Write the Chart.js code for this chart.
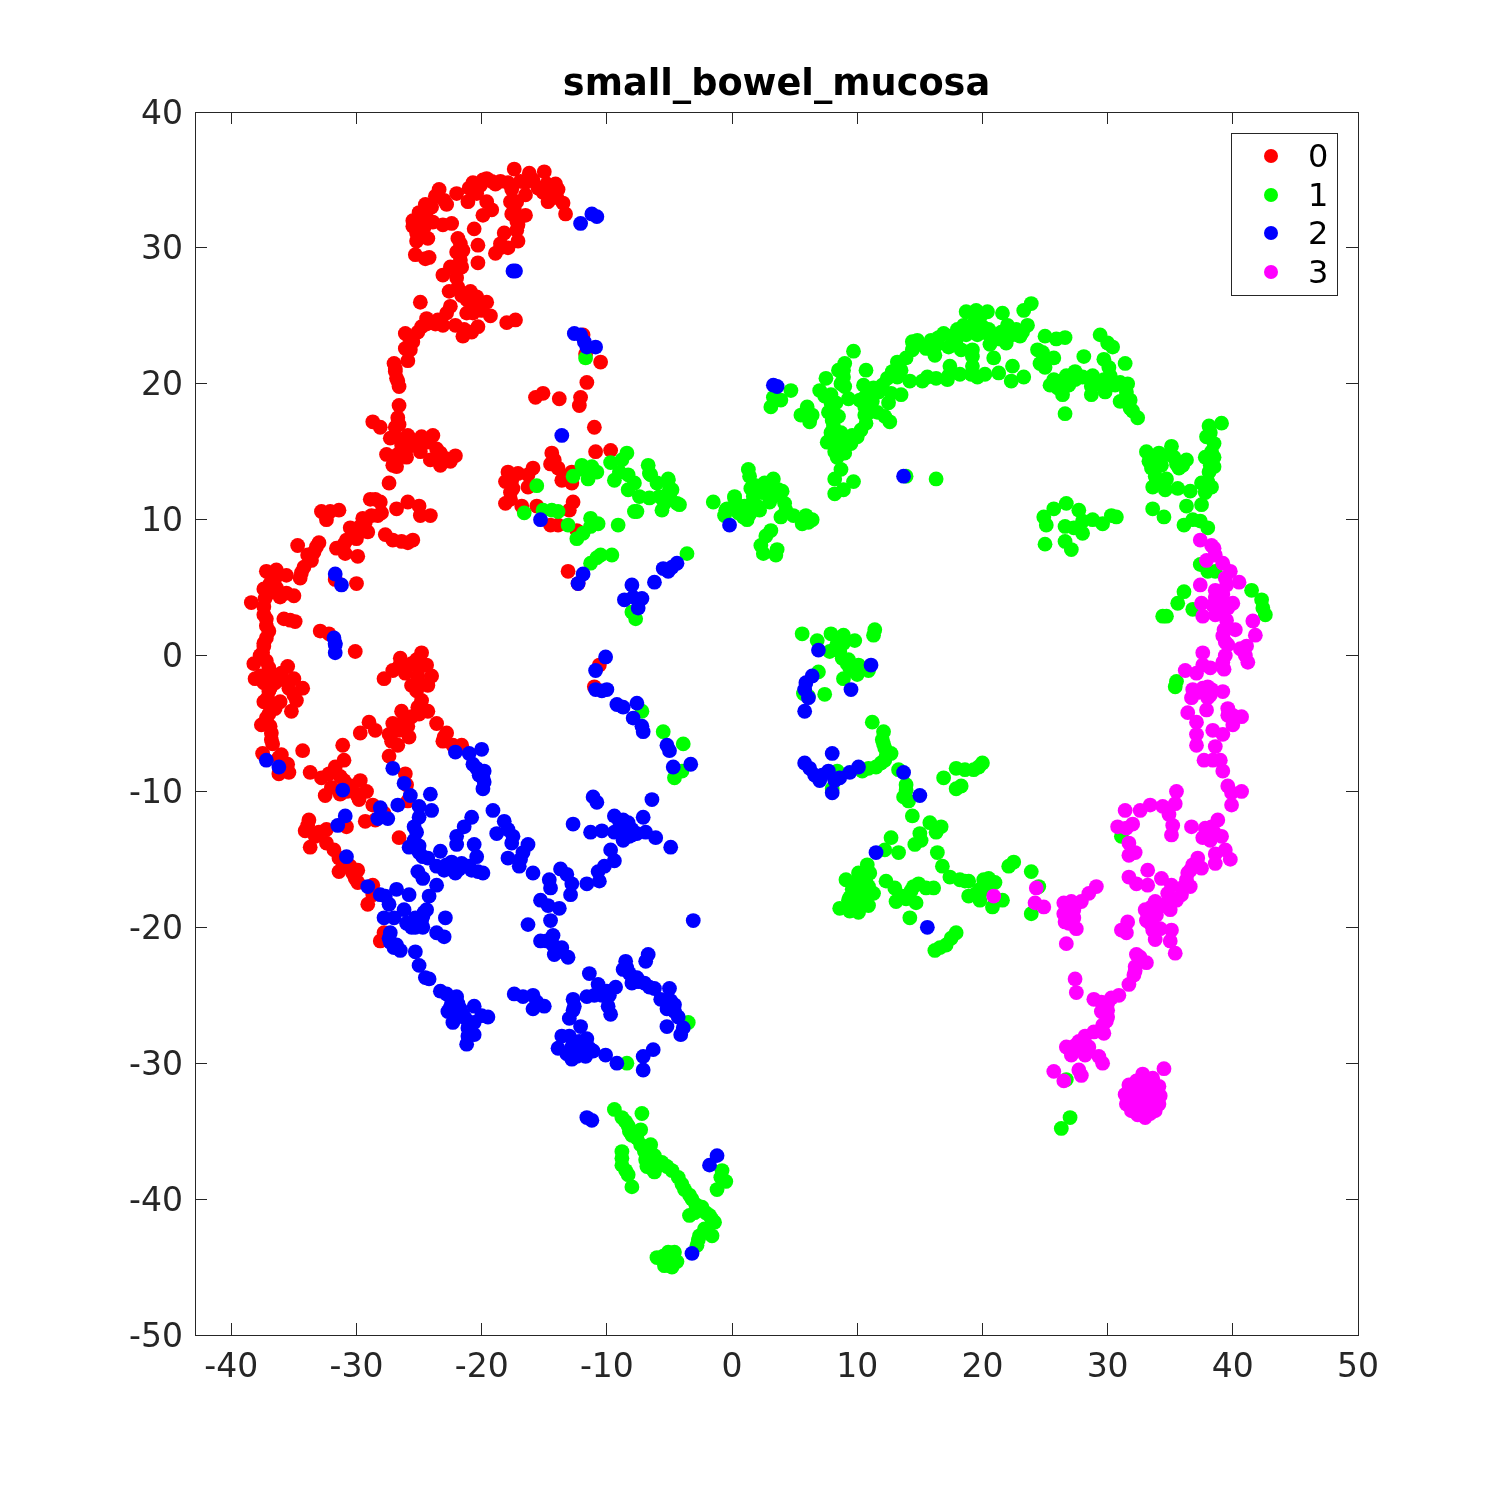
<!DOCTYPE html>
<html><head><meta charset="utf-8">
<script src="https://cdn.jsdelivr.net/npm/chart.js@4"></script>
<style>html,body{margin:0;padding:0;background:#fff}canvas{display:block}</style>
</head><body><canvas id="c" width="1500" height="1500"></canvas>
<script>
const chartTitle = "small_bowel_mucosa";
const seriesLabels = ["0","1","2","3"];
const seriesColors = ["#ff0000","#00ff00","#0000ff","#ff00ff"];
const xTicks = [-40,-30,-20,-10,0,10,20,30,40,50];
const yTicks = [40,30,20,10,0,-10,-20,-30,-40,-50];
const red = [[-17.4,35.8],[-16.2,35.5],[-15,35.6],[-16.9,34.9],[-15.9,35],[-14.8,34.7],[-14.1,34.7],[-13.9,34.3],[-15.1,34.1],[-14.5,33.8],[-14.7,33.4],[-13.5,33.3],[-13.3,32.5],[-18.5,34.9],[-19.2,34.9],[-19.6,35.1],[-20.1,34.6],[-20.7,34.8],[-20.4,34],[-23.4,34.3],[-23.7,33.8],[-22,34],[-22.8,33.2],[-21.1,33.4],[-24.5,33.2],[-24.4,32.7],[-25.5,32],[-24.9,32],[-25.5,31.6],[-23.9,31.9],[-23.1,31.7],[-22.4,31.8],[-25.2,31.1],[-24.3,30.7],[-25.2,30.5],[-25.3,29.5],[-24.5,29.2],[-24.2,29.3],[-19.6,33.4],[-19.2,32.8],[-19.9,32.4],[-17.6,34.3],[-17.7,33.4],[-17.2,33.4],[-16.5,33.9],[-16.5,32.4],[-17.6,32.5],[-17.2,32],[-17.2,31.3],[-18.2,31.1],[-17.1,30.5],[-17.9,30],[-18.5,30],[-18.9,29.6],[-20.6,31.4],[-20.3,30.2],[-20.3,28.9],[-21.9,30.7],[-21.5,29.8],[-22,29.7],[-21.7,29.1],[-22.5,28.6],[-23.1,28],[-22,27.8],[-21.9,27.1],[-22.6,26.8],[-20.9,26.8],[-21.2,26.2],[-20.7,25.8],[-19.6,26],[-20,25.4],[-21.2,25.2],[-19.3,25],[-20.7,25.2],[-24.9,26],[-22.5,25.7],[-22.8,25.2],[-24.4,24.8],[-23.7,24.4],[-23.1,24.3],[-22.1,24.3],[-24.8,24.2],[-20.3,24.2],[-20.8,23.8],[-21.5,23.5],[-18,24.5],[-17.3,24.7],[-25.1,23.8],[-26.1,23.7],[-25.5,23.1],[-26.1,22.6],[-25.7,22.5],[-25.9,21.7],[-27,21.5],[-26.9,20.9],[-26.8,20.4],[-26.6,19.8],[-26.6,18.4],[-26.7,17.5],[-26.9,16.8],[-28.7,17.2],[-28.1,16.8],[-25.9,16.2],[-23.9,16.2],[-24.8,16.1],[-27.3,16],[-26.5,15.9],[-25.5,15.6],[-24.4,15.7],[-26,15.2],[-23.6,15.2],[-24.9,15],[-27.6,14.8],[-26.7,14.8],[-26,14.6],[-22.1,14.7],[-22.5,14.3],[-24.1,14.4],[-23.3,14],[-27.1,14],[-26.8,13.9],[-27.4,12.7],[-28.9,11.5],[-28.1,11.3],[-28,10.5],[-32.8,10.6],[-31.4,10.7],[-32.1,10.6],[-32.4,10],[-28.8,10.3],[-29.5,10.1],[-30.5,9.4],[-29.7,9.5],[-29.1,9.1],[-30,8.6],[-30.8,8.5],[-31.6,7.9],[-30.9,7.5],[-29.9,7.3],[-33,8.3],[-33.4,7.6],[-34.7,8.1],[-33.6,7],[-34.2,6.5],[-34.5,5.7],[-26.8,10.8],[-25.9,11.3],[-25,11],[-24.9,10.3],[-24.1,10.3],[-27.7,8.9],[-27.1,8.5],[-26.4,8.4],[-25.5,8.5],[-25.9,8.3],[-37.2,6.2],[-36.4,6.3],[-35.6,5.9],[-37.4,4.9],[-36.5,5.7],[-36.9,5.3],[-35.6,4.6],[-35,4.4],[-36.1,4.3],[-38.4,3.9],[-37.3,4.2],[-37.4,3.6],[-37.2,2.7],[-35.8,2.7],[-34.9,2.5],[-37,1.8],[-37.4,0.9],[-30,5.3],[-31.7,5.6],[-32.9,1.8],[-32.2,1.6],[-37.4,0.7],[-37.7,0],[-38.2,-0.6],[-37.2,-0.4],[-35.5,-0.8],[-38.1,-1.7],[-37,-1.3],[-36,-1.3],[-37.4,-2],[-36.5,-2],[-35,-1.7],[-34.3,-2.4],[-35.4,-2.4],[-37,-2.6],[-34.8,-3.3],[-37.4,-3.4],[-36.1,-3.4],[-36.5,-3.9],[-35.2,-4.1],[-37.2,-4.6],[-37.6,-5.1],[-36.8,-5.7],[-36.7,-6.5],[-37.5,-7.2],[-36,-7.3],[-35.5,-8],[-36.2,-8.7],[-35.4,-8.6],[-34.3,-7],[-30.1,0.3],[-24.8,0.2],[-26.5,-0.2],[-27.1,-1.1],[-25.6,-0.6],[-24.4,-0.7],[-26.1,-1.3],[-24,-1.5],[-25.1,-1.5],[-27.8,-1.7],[-25.6,-2.2],[-24.3,-2.2],[-24.8,-3.3],[-25.1,-3.8],[-26.4,-4.1],[-24.3,-4.1],[-25.6,-4.5],[-27.1,-5],[-26.3,-4.9],[-23.6,-5],[-27.4,-5.8],[-29,-4.9],[-29.7,-5.7],[-28.5,-5.5],[-25.8,-6],[-26.7,-6.6],[-27.4,-7.4],[-22.8,-5.7],[-23.1,-6.3],[-21.6,-6.6],[-31.1,-6.6],[-31,-7.7],[-31.7,-8.2],[-33.7,-8.6],[-32.8,-9],[-31.3,-8.9],[-29.7,-9.2],[-32.5,-10.3],[-31.3,-10.2],[-30.4,-9.6],[-29.8,-10.6],[-29.2,-10],[-28.7,-11],[-27.8,-11.6],[-26.1,-8.7],[-26,-9.5],[-25.9,-10.7],[-26.6,-13.4],[-33.8,-12.1],[-34.1,-12.9],[-32.4,-12.8],[-33.3,-13.3],[-33.7,-14.1],[-32.4,-13.8],[-31.8,-14.3],[-31.4,-14.9],[-30.8,-12.6],[-29.3,-12.2],[-28.5,-12.1],[-31.4,-15.9],[-30.5,-15.5],[-29.9,-15.8],[-30.1,-16.4],[-28.7,-16.9],[-28.7,-17.6],[-29.1,-18.3],[-27.8,-20.4],[-28.1,-21],[-10.6,-0.7],[-11,-2.3],[-11.9,23.6],[-11.7,22.2],[-10.5,21.6],[-11.6,20.1],[-12.1,19],[-12.2,18.4],[-11,16.8],[-15.7,19],[-15.1,19.3],[-13.8,18.9],[-10.9,15],[-9.7,15.1],[-14.4,14.9],[-14.5,14.1],[-13.9,13.8],[-13.6,12.9],[-12.8,13.5],[-12.8,12.7],[-17.9,13.5],[-17.1,13.4],[-15.9,13.8],[-16.3,13.3],[-18.1,12.8],[-17.5,12.3],[-16.3,12.4],[-17.7,11.5],[-18.1,11.2],[-16.8,11],[-15.6,11],[-12.7,11.3],[-13,10.7],[-14.5,9.6],[-13.9,9.6],[-12.4,9.2],[-13.1,6.2],[-12.3,5.3]];
const redFill = [[-23,33.5],[-24,33],[-25,32.6],[-24.6,31.5],[-25,30.9],[-21,34.4],[-19.9,35],[-18.9,34.7],[-17.9,34.8],[-16.5,34.8],[-15.5,34.4],[-14.2,34.2],[-14,33.7],[-17.4,32.9],[-17.1,31.7],[-18.5,30.3],[-21.7,30.3],[-21.6,28.6],[-22,28.3],[-21.6,26.5],[-20.4,26.4],[-20.4,25.6],[-23.5,24.7],[-24.4,24.4],[-21.4,24],[-25.7,23.2],[-26.9,21.1],[-26.7,20.2],[-26.6,17],[-26.4,15.5],[-25,15.6],[-26.2,14.9],[-23.3,14.9],[-22.9,14.5],[-28.5,11.5],[-28.3,10.3],[-29.3,9.8],[-30.2,9],[-29.5,9.3],[-31,8.2],[-33.2,8],[-33.9,7.4],[-34.4,6.1],[-36.8,6],[-37,4.6],[-36.4,5],[-37.4,3],[-37.2,2.2],[-37.2,1.3],[-35.3,2.6],[-37.5,0.2],[-37,-0.9],[-37.7,-1.5],[-36.9,-1.7],[-36.9,-2.4],[-37.1,-3.1],[-37,-4.3],[-36.9,-5.2],[-36.8,-6.2],[-36.2,-7.5],[-35.5,-2],[-35,-2.9],[-25.2,-0.3],[-25,-0.9],[-26,-0.9],[-26.6,-0.8],[-25,-2],[-25.2,-2.6],[-24.9,-3.8],[-25,-4.3],[-25.9,-5.2],[-26.6,-5.5],[-27.2,-6.3],[-23,-6],[-22.3,-6.6],[-32.2,-8.7],[-31,-9.2],[-30.8,-10],[-30,-10.2],[-32,-9.7],[-33.9,-12.5],[-33,-13],[-31,-15.4],[-30.3,-16],[-29.9,-16.7],[-17.6,12.9],[-17.7,12],[-13.3,13.2],[-14.2,14.4],[-13.1,13]];
const green = [[-15.6,12.5],[-16.6,10.5],[-15.1,10.7],[-14.4,10.7],[-13.9,10.6],[-13.1,9.6],[-11.3,10.1],[-10.7,9.7],[-11.3,9.5],[-11.9,9],[-12.4,8.6],[-9.1,9.6],[-9.6,7.4],[-10.5,7.4],[-10.8,7.2],[-11.3,6.8],[-12.7,13.2],[-11.9,13.7],[-11.2,13.9],[-10.8,13.5],[-11.5,13],[-12,14],[-9.7,14.2],[-8.4,14.9],[-8.8,14.4],[-6.7,14],[-6.6,13.4],[-9.4,12.9],[-9,13.5],[-8.3,13.3],[-7.8,12.7],[-8.3,12.2],[-7.4,11.7],[-7.8,10.6],[-6,12.7],[-5.1,13],[-5.8,11.7],[-5,12.2],[-5.4,11.2],[-4.4,11.2],[-6.6,11.6],[-11.7,21.9],[-7.7,2.7],[-8,3.2],[-4.2,11.1],[-5,11.8],[-5.6,10.7],[-7.6,10.6],[-6.5,13.3],[-5.1,12.9],[-4.8,12.2],[-3.6,7.5],[-7.2,-4.1],[-5.5,-5.6],[-3.9,-6.5],[-4,-8.5],[-4.6,-9],[-3.5,-27],[-8.4,-30],[-9.4,-33.4],[-8.8,-34],[-7.2,-33.7],[-8.3,-34.6],[-8,-35.3],[-7.3,-34.9],[-8.8,-36.5],[-7.3,-36],[-6.5,-36],[-8.8,-37.5],[-6.9,-37.1],[-6.2,-36.8],[-8.3,-38.2],[-8,-39.1],[-6.5,-37.7],[-5.6,-37.3],[-6.2,-38],[-4.8,-37.9],[-4.3,-38.4],[-3.8,-39.3],[-3.2,-40],[-1.2,-39.3],[-0.5,-38.7],[-0.8,-37.9],[-3.4,-41.2],[-2.4,-40.6],[-1.8,-41.2],[-1.4,-41.7],[-2.6,-42.7],[-2.8,-43.4],[-1.6,-42.7],[-6,-44.3],[-5.1,-43.9],[-4.6,-43.9],[-5.4,-44.9],[-4.8,-45],[-4.7,-44.3],[23.9,25.9],[23.3,25.4],[18.7,25.3],[19.5,25.4],[20.4,25.3],[21.6,25.2],[18.5,24.3],[19.4,24.6],[20,24.2],[22,24.3],[23.6,24.3],[16.9,23.7],[18.7,23.6],[19.6,23.6],[20.4,23.7],[21.3,23.3],[22.4,23.6],[21.9,23],[23,23.5],[17.9,23.2],[15.9,23.2],[14.4,23.1],[15,22.9],[14.4,22.5],[16.4,22.9],[17.3,22.7],[18.3,22.5],[19.2,22.5],[16.2,22.1],[20.6,22.9],[25,23.5],[25.9,23.3],[26.6,23.4],[29.4,23.6],[30,23],[30.4,22.7],[9.7,22.4],[9,21.5],[8.5,21],[10.7,21],[7.5,20.4],[8.9,20.5],[9,19.8],[7,19.5],[7.9,19.2],[10.5,19.9],[11.3,19.7],[12.4,20.4],[13.2,21.6],[13.9,21.9],[13.2,20.5],[10.6,19],[9.3,18.9],[12.7,19.3],[13.5,19.2],[12.5,18.6],[10.6,18.3],[11.2,18.7],[7.9,18.6],[7.7,17.9],[8.5,17.6],[8,17.3],[11.6,17.9],[12.2,17.6],[12.6,17.2],[10.7,17.1],[10.3,16.6],[10,16.1],[7.9,16.4],[8.7,16.4],[7.6,15.7],[8.3,15.9],[9.5,15.6],[8.9,15.5],[8.2,15],[9,14.9],[8.4,14.6],[8.7,13.7],[8.2,13],[9.7,12.8],[8.9,12.2],[8.2,11.9],[13.9,13.2],[16.3,13],[14.2,20.2],[15.2,20.2],[15.6,20.5],[16.3,20.4],[17.2,20.3],[17.4,21.3],[17.3,20.6],[18.2,20.7],[19.1,20.7],[19.6,20.5],[20.2,20.7],[19.2,22],[19.2,21.3],[21.3,20.8],[20.9,21.9],[22.4,21.3],[23.3,20.5],[22.3,20.2],[24.4,22.5],[25.7,21.9],[25,21.2],[24.9,21.9],[28.1,22],[29.7,21.8],[30.1,21.2],[31.4,21.5],[27.4,20.9],[26.7,20.6],[25.7,20.3],[25.4,19.9],[26.4,20.2],[26,19.7],[27.1,20.3],[26.4,19.2],[28,20.5],[28.8,20.6],[28.7,19.8],[28.7,19.2],[29.7,20.3],[29.8,19.4],[30.6,19.9],[31.6,20],[31,18.7],[31.8,18.8],[31.8,18.2],[32.4,17.5],[26.6,17.8],[3.1,18.3],[3.3,19],[3.9,18.8],[4.7,19.5],[6,18.3],[5.5,17.7],[6.2,17.2],[6.4,17.7],[1.3,13.7],[1.4,13.2],[3.3,13],[2.6,12.7],[1.5,12.3],[4,12.1],[0.2,11.6],[1.7,11.7],[2.8,12],[3.3,11.7],[-0.5,10.7],[0.75,10.96],[1.6,11.2],[4.2,11.2],[2.2,10.7],[1.2,10],[0.5,10.5],[4.9,10.3],[3.9,10.2],[5.9,10.3],[5.6,9.7],[6.4,10],[3.1,9.2],[2.7,8.8],[2.3,8.1],[3.6,7.8],[2.5,7.5],[3.5,7.4],[-1.5,11.3],[-0.6,10.3],[0.2,11.7],[-0.4,10.8],[0.9,10.2],[1.4,10.6],[25.7,10.8],[26.7,11.2],[24.9,10.2],[25.1,9.6],[27.7,10.7],[26.6,9.5],[28.8,10],[28,9.9],[30.3,10.3],[30.7,10.2],[29.6,9.7],[28,9],[27.3,9.4],[25,8.2],[26.6,8.4],[27.1,7.8],[33.1,15],[34.1,14.9],[35.1,15.4],[33.3,14.3],[34.3,14],[35.3,14.6],[36.3,14.4],[35.7,13.8],[33.8,13.2],[34.7,13],[33.6,12.4],[34.6,12.2],[35.6,12.3],[36.6,12.1],[37.5,12.7],[38.3,12.4],[37.8,12],[39.1,17.1],[38.1,16.9],[37.9,16.1],[38.5,15.6],[37.8,14.6],[38.5,14.6],[38.1,13.5],[38.5,13.9],[33.6,10.8],[34.5,10.2],[36.3,11],[37.5,11.1],[36.1,9.6],[36.8,10],[37.4,9.9],[38,9.4],[5.6,1.6],[6.8,1.1],[7.9,1.6],[8.9,1.5],[9.8,1.1],[11.4,1.9],[11.3,1.5],[8.4,0.9],[7.8,0.3],[8.6,0.3],[8.8,-0.2],[9.2,-0.6],[10.1,-0.7],[6.9,-1.2],[9.6,-1.1],[8.9,-1.7],[10,-1.4],[10.9,-1.1],[5.7,-2.8],[6.1,-3],[7.4,-2.85],[11.2,-4.9],[12.1,-5.6],[12,-6.2],[12.2,-6.8],[12.7,-7.2],[12.2,-7.7],[11.5,-8.2],[10.9,-8.3],[10.4,-8.5],[8.4,-8.5],[13.3,-8.4],[13.9,-9.5],[13.7,-10.4],[14.1,-10.7],[8,-9.8],[14.4,-11.8],[15.8,-12.3],[16.7,-12.6],[16.3,-13],[15,-13.1],[15.1,-13.6],[14.6,-13.9],[12.7,-13.4],[12.2,-14.3],[13.3,-14.5],[16.4,-14.5],[16.8,-15.5],[17.4,-16.3],[18.2,-16.5],[18.9,-16.6],[20.1,-16.5],[21,-16.7],[20.5,-16.4],[19.8,-17.2],[18.9,-17.7],[19.8,-18],[20.8,-18.5],[21.6,-18],[22.5,-15.2],[22.1,-15.5],[23.9,-15.9],[24.5,-17],[23.9,-19],[10.8,-15.4],[10.1,-16],[9.1,-16.5],[10.1,-16.5],[12.3,-16.6],[13,-17.1],[10.9,-17],[9.6,-17.2],[10.2,-17.5],[11.3,-17.5],[14.9,-16.8],[14.3,-17.3],[15.5,-17.1],[16.1,-17.1],[13.1,-18.1],[13.9,-17.9],[14.7,-18.2],[9.3,-18],[10.1,-18.1],[10.9,-18.4],[8.6,-18.6],[10.1,-18.6],[9.7,-18.4],[14.2,-19.3],[17.9,-20.4],[17.5,-20.8],[17.1,-21.3],[16.6,-21.5],[16.2,-21.7],[16.9,-9],[17.9,-8.3],[18.6,-8.4],[19.3,-8.4],[20,-7.9],[19.7,-8.2],[17.9,-9.8],[18.3,-9.6],[37.4,6.7],[38,6.2],[38.6,6.2],[36.1,4.7],[35.6,3.85],[36.8,3.4],[34.7,2.9],[34.4,2.9],[41.5,4.8],[42.3,4.1],[42.4,3.5],[42.6,3],[35.5,-1.9],[35.4,-2.3],[31.1,-13.3],[27,-34],[26.3,-34.8],[26.7,-31.2]];
const greenFill = [[19,24],[19.8,24.9],[20.5,24],[21.5,23.8],[22.7,24],[23.2,23.8],[17.5,23.5],[18,24],[16.5,23.4],[15.5,22.6],[14.8,23.2],[17.8,22.9],[13.5,21],[12.8,20.9],[12,19.9],[11.7,19.4],[10.8,19.6],[10.2,18.8],[11,17.9],[10.6,17.7],[9.6,16.2],[9.1,16],[8.5,15.2],[8.1,16.9],[8.1,17.9],[8.3,18.6],[7.4,19.1],[8.7,20],[8.9,21],[24.6,21.5],[24.8,22.3],[26,20.2],[26.9,19.9],[27.4,20.3],[29.2,20],[30.2,20.6],[31,20.1],[31.5,19.4],[31.4,18.9],[32,18],[1.9,12.5],[2.4,12],[3,12.4],[3.7,12.2],[2,11],[1,11],[1.4,10.4],[3,11.3],[4.3,10.7],[0.3,11],[6.1,9.8],[-8.5,-34.3],[-8.2,-35],[-7.6,-35.5],[-7,-36.5],[-6.6,-36.5],[-6.8,-37.6],[-6,-37.6],[-5.2,-37.6],[-8.5,-37.9],[-8.8,-37],[-4,-38.9],[-3.4,-39.7],[-2.9,-40.4],[-2.1,-41],[-1.6,-41.5],[-3,-41],[-2.2,-42.2],[-2.7,-43],[-5.5,-44.2],[-5,-44.5],[-4.4,-44.6],[-0.9,-38.4],[9.4,-17.8],[9.9,-17.6],[10.5,-17.9],[10.6,-18.2],[9.7,-18],[9.4,-18.8],[10.1,-18.9],[10.7,-16.7],[11,-16],[13.6,-17.7],[14.5,-17],[18.6,-16.6],[19.5,-17.5],[20.4,-17.2],[9.3,-0.3],[8.3,0.6],[8.9,0.9],[8.6,1],[9.4,-0.9],[12.3,-7.4],[11.9,-7.9],[13.9,-9.9],[12.1,-6.5],[34,14.4],[34.9,14.8],[35.5,14.1],[36,14],[33.9,12.9],[34.5,12.6],[33.5,13.8],[38.3,15],[38.2,16.4],[38.2,14],[38,12.8]];
const blue = [[-12.1,31.8],[-11.2,32.5],[-10.8,32.3],[-17.5,28.3],[-17.3,28.3],[-12.6,23.7],[-12.1,23.6],[-11.8,23.1],[-11.6,22.7],[-10.9,22.7],[-13.6,16.2],[-15.3,10],[-11.9,6],[-12.3,5.3],[-31.7,6],[-31.2,5.2],[-31.8,1.3],[-31.7,0.9],[-31.7,0.8],[-31.7,0.2],[-8,5.2],[-8.6,4.1],[-7.9,4.3],[-7.2,4.2],[-7.5,3.5],[-6.2,5.4],[-5.5,6.4],[-5.1,6.2],[-4.4,6.8],[-4.8,6.5],[-10.1,-0.1],[-10.9,-1.1],[-10.9,-2.5],[-10.4,-2.6],[-10,-2.5],[-9.2,-3.6],[-8.7,-3.8],[-7.6,-3.5],[-7.9,-4.6],[-7.2,-5.2],[-7.1,-5.6],[-5.2,-6.6],[-5,-7],[-4.7,-8.2],[-3.3,-8],[-37.2,-7.7],[-36.2,-8.2],[-27.1,-8.3],[-26.2,-9.4],[-25.7,-10.3],[-26.7,-11],[-31.1,-9.9],[-30.9,-11.8],[-31.5,-12.5],[-30.8,-14.8],[-28.1,-11.2],[-27.5,-12],[-28.3,-12],[-22.1,-7.1],[-21,-7.2],[-20,-6.9],[-20.7,-8],[-19.8,-8.5],[-20.2,-8.8],[-19.8,-9.3],[-19.9,-9.8],[-24.1,-10.2],[-25,-11.1],[-24,-11.4],[-25,-11.9],[-25.4,-12.6],[-25.4,-13.6],[-25.8,-14.1],[-25,-14.5],[-24.3,-14.9],[-23.3,-14.4],[-23.6,-15.5],[-22.4,-15.2],[-21.6,-15.3],[-22.1,-16],[-20.8,-15.8],[-19.9,-16],[-20.3,-15.9],[-22.8,-15.4],[-20.8,-11.9],[-21.4,-12.6],[-22,-13.3],[-22,-13.9],[-20.6,-13.9],[-20.4,-14.8],[-25.1,-15.9],[-24.7,-16.4],[-23.6,-16.9],[-24.2,-17.7],[-26.8,-17.2],[-25.8,-17.6],[-29.1,-17],[-28.1,-17.6],[-27.7,-17.7],[-27.4,-18.3],[-26.2,-18.7],[-24.4,-18.7],[-27.8,-19.3],[-27,-19.3],[-26,-19.7],[-25.3,-19.3],[-24.7,-19.2],[-25.3,-20],[-24.7,-20],[-22.9,-19.3],[-23.6,-20.4],[-23,-20.7],[-27.3,-20.4],[-27.3,-21.1],[-27,-21.5],[-26.5,-21.7],[-25.3,-21.8],[-25,-22.8],[-24.5,-23.7],[-24.2,-23.8],[-23.3,-24.7],[-22.8,-24.9],[-22,-25.1],[-22.4,-25.6],[-20.6,-25.8],[-21.7,-26],[-22.7,-26.2],[-22.1,-26.4],[-19.5,-26.6],[-20,-26.5],[-21.3,-26.7],[-22.3,-27],[-20.6,-27],[-21.1,-27.4],[-20.6,-27.9],[-21.1,-28],[-21.2,-28.6],[-19.1,-11.4],[-18.2,-12.2],[-18.8,-13.1],[-17.9,-12.8],[-17.6,-13.8],[-16.3,-13.9],[-17.9,-14.9],[-16.7,-14.5],[-17,-15.5],[-15.9,-16],[-13.7,-15.7],[-13.2,-16.1],[-12.8,-16.8],[-14.6,-16.5],[-14.5,-17.1],[-12.9,-17.6],[-11.6,-16.8],[-10.6,-16.6],[-10.7,-15.9],[-10.2,-15.5],[-9.4,-15.1],[-9.7,-14.3],[-15.3,-18],[-14.7,-18.4],[-13.8,-18.6],[-14.5,-19.5],[-16.3,-19.8],[-15.3,-21],[-14.3,-20.6],[-14.3,-21.3],[-13.6,-21.5],[-14.2,-22],[-13.1,-22.2],[-11.1,-10.4],[-10.8,-10.8],[-6.4,-10.6],[-12.7,-12.4],[-9.4,-11.8],[-7.1,-11.9],[-8.7,-12.1],[-11.3,-13],[-10.4,-12.9],[-9.4,-13],[-8.6,-12.7],[-8,-12.8],[-8.7,-13.6],[-8.2,-13.3],[-6.9,-13],[-6.1,-13.4],[-4.9,-14.1],[-3.1,-19.5],[-11.4,-23.4],[-6.7,-22],[-6.9,-22.5],[-8.5,-22.5],[-8.7,-23.1],[-8.2,-23.4],[-8,-24.1],[-7,-24.1],[-6.2,-24.5],[-5,-24.5],[-9.3,-24.4],[-10.7,-24.2],[-10.4,-25],[-11.6,-25.1],[-12.7,-25.3],[-9.9,-25.8],[-9.7,-26.4],[-12.7,-26.1],[-13,-26.7],[-5.7,-25.3],[-4.6,-25.7],[-5.2,-26],[-4.3,-26.6],[-5.2,-27.3],[-3.9,-27.4],[-4.1,-27.9],[-12.1,-27.3],[-13.6,-28],[-11.6,-28.2],[-12.7,-28.4],[-13.9,-28.9],[-13.2,-29.3],[-12.3,-28.9],[-11.4,-28.9],[-12.4,-29.5],[-11.7,-29.5],[-11.1,-29.1],[-10.1,-29.4],[-9.2,-30],[-7.1,-29.5],[-6.3,-29],[-7.1,-30.5],[-17.4,-24.9],[-16.7,-25.1],[-15.9,-25],[-15.6,-25.5],[-15.9,-26],[-15,-25.8],[-11.6,-34],[-11.2,-34.2],[-1.2,-36.8],[-1.8,-37.5],[-3.2,-44],[3.3,19.9],[3.6,19.8],[13.7,13.2],[-0.2,9.6],[6.9,0.4],[5.9,-2],[6.4,-1.5],[5.8,-2.5],[6.1,-3.1],[9.5,-2.5],[11.1,-0.7],[5.8,-4.1],[5.8,-7.9],[6.2,-8.3],[6.6,-8.8],[7,-9.2],[7.2,-8.8],[7.7,-8.5],[8.2,-9.2],[8,-7.2],[8.6,-9],[9.4,-8.6],[10.1,-8.2],[8,-10.1],[13.7,-8.6],[15,-10.3],[11.5,-14.5],[15.6,-20]];
const blueFill = [[-8.7,-12.5],[-8.9,-13],[-8.3,-12.3],[-8,-13.2],[-7.6,-13.1],[-8.6,-13.1],[-9,-12.2],[-25,-19.7],[-24.8,-19.5],[-25.6,-20],[-24.6,-18.9],[-23,-15.8],[-21.8,-15.7],[-22.2,-15.6],[-21,-15.5],[-22.3,-26],[-21.5,-26.4],[-22.5,-25.9],[-21.9,-25.6],[-21,-27],[-12.8,-28.8],[-12.2,-28.4],[-13,-28],[-12,-29.2],[-12.8,-29.7],[-7.6,-23.7],[-7.5,-24],[-8.4,-23],[-6.6,-24.4],[-4.9,-25.4],[-4.6,-26.2],[-11,-25],[-10,-24.7],[-9.8,-25],[-12.6,-25.8],[-26.8,-21.3],[-27.4,-20.8],[-19.9,-9],[-20.4,-8.3],[-25.2,-13],[-25,-14],[-24.7,-14.8],[-22.5,-15.7],[-16.9,-15],[-17.5,-13.3],[-14.5,-20.9],[-14.8,-21],[-13.9,-21.8]];
const magenta = [[37.4,8.5],[38.3,8.1],[38.6,7.4],[37.9,7],[39.2,6.8],[39.8,6.2],[40.5,5.4],[37.4,5.2],[38.6,4.8],[39.5,5.2],[39.2,4.5],[40,3.85],[37.5,3.85],[38.4,3.7],[39,3.85],[37.6,2.9],[38.6,3],[39.5,2.6],[41.6,2.55],[40.2,1.9],[39.2,1.45],[41.8,1.5],[39.6,0.8],[41.1,0.7],[40.6,0.5],[39.4,0],[41,0],[39.2,-0.5],[41.2,-0.5],[37.6,0.2],[37.6,-0.7],[38.2,-0.9],[36.2,-1.1],[37.1,-1.3],[36.8,-2.5],[37.6,-2.4],[38.3,-2.5],[39.2,-2.65],[36.7,-3.1],[38,-3.1],[36.4,-4.2],[37.1,-4.9],[37.9,-4],[39.6,-3.9],[40,-4.4],[40.7,-4.5],[40,-5.1],[38.4,-5.5],[39.2,-5.8],[37.1,-5.8],[37.1,-6.6],[38.6,-6.7],[37.7,-7.7],[38.4,-7.7],[39,-7.7],[39.2,-8.5],[39.6,-9.6],[40.7,-10],[39.9,-10.1],[39.9,-11],[35.5,-10],[35.4,-10.9],[34.4,-11.1],[33.4,-11],[32.6,-11.4],[31.4,-11.4],[34.9,-11.7],[35.2,-12.5],[35.1,-13.2],[32,-12.4],[31.5,-12.7],[30.8,-12.6],[31.7,-13.8],[32.2,-14.5],[31.7,-14.7],[36.7,-12.6],[37.8,-12.7],[38.8,-12.1],[38.3,-12.6],[37.6,-13.4],[38.2,-13.6],[39.1,-13.3],[38.6,-14.6],[39.4,-14.3],[38.6,-15.3],[39.8,-15],[37.2,-14.9],[36.8,-15.4],[37.5,-15.65],[36.4,-16],[36.3,-16.5],[36.6,-17],[35.9,-17.6],[35.1,-16.9],[33.2,-15.8],[31.7,-16.3],[32.3,-16.8],[33.2,-16.9],[34.3,-16.4],[34.8,-17.5],[35.5,-18],[33.8,-18.1],[34.4,-18.4],[35,-18.7],[33.2,-19.1],[33.9,-19.1],[33.4,-19.7],[34.2,-20.1],[35.1,-20.2],[33.8,-20.9],[35,-21],[35.4,-21.9],[29.1,-17],[28.5,-17.5],[27.9,-18.1],[27.1,-18.1],[26.5,-18.2],[27.3,-18.7],[26.5,-19],[27,-19.2],[26.6,-19.6],[27.5,-20.1],[26.7,-21.2],[24.3,-17.1],[24.2,-18.2],[24.9,-18.5],[20.9,-17.7],[31.6,-19.6],[31.1,-20.2],[31.5,-20.4],[32.3,-22],[33.1,-22.6],[32.2,-22.9],[32.1,-23.5],[31.7,-24.2],[27.4,-23.8],[27.5,-24.8],[30.9,-25],[30.3,-25.2],[28.9,-25.3],[29.5,-25.5],[30,-26.1],[29.5,-26.2],[29.9,-26.9],[29.7,-27.8],[28.9,-27.7],[28.2,-28],[27.7,-28.4],[26.7,-28.8],[28.5,-28.8],[27.8,-28.9],[27.1,-29.4],[28.2,-29.4],[29.3,-29.5],[29.6,-30],[27.7,-30.5],[27.9,-30.9],[25.7,-30.6],[26.5,-31.3],[34.5,-30.4],[32.8,-32.3],[32,-32],[33.5,-32],[32.3,-31.3],[33.2,-31.4],[32.8,-30.8],[33.6,-31.1],[31.7,-31.6],[34.1,-31.7],[31.4,-32.3],[34.2,-32.4],[31.5,-33],[34.1,-33],[31.9,-33.5],[33.8,-33.5],[32.4,-33.8],[33,-34],[33.4,-33.7],[32.3,-32.7],[33.2,-32.8],[32.8,-33.3],[32.2,-33.1],[33.6,-32.7]];
const magentaFill = [[33,-18.7],[33.5,-18.5],[33.1,-19.5],[34,-18.6],[33.6,-20.2],[34.7,-18.2],[36.1,-17],[36.6,-15.8],[30,-25.6],[30,-26.6],[29.6,-27.2],[27.4,-28.7],[28,-28.4],[28.4,-29],[32.2,-23.2],[32.6,-22.2],[39.3,-1],[39.4,1],[39.3,1.9],[38.6,4.3],[39.6,3.5],[38.9,3.2],[39.4,5.7],[38.5,7.9],[38.2,-2.9],[37.3,-2.7],[38,-2.3],[39.6,-4.4],[37.9,-13],[38.5,-13],[26.8,-18.6],[26.9,-19.7],[27.3,-19.3],[26.7,-18.7],[32.6,-31.8],[33.1,-32.1],[32.5,-32.4],[31.9,-32.5],[33.8,-32.2],[33.1,-33.4],[32.5,-33.3]];
const seriesPoints = [[...red,...redFill],[...green,...greenFill],[...blue,...blueFill],[...magenta,...magentaFill]];

const INK = "#262626";
const FONT = "'DejaVu Sans'";
const legendBox = {left:1231.5, top:133.5, width:106, height:162, markerX:1271, textX:1308, rowY:[156,195,233,272]};
const legendPlugin = {
  id:"boxLegend",
  afterDraw(chart){
    const c = chart.ctx;
    c.save();
    c.fillStyle = "#fff"; c.fillRect(legendBox.left,legendBox.top,legendBox.width,legendBox.height);
    c.strokeStyle = INK; c.lineWidth = 1;
    c.strokeRect(legendBox.left,legendBox.top,legendBox.width,legendBox.height);
    c.textBaseline = "middle"; c.textAlign = "left"; c.font = "32px "+FONT;
    chart.data.datasets.forEach((d,i)=>{
      c.beginPath(); c.arc(legendBox.markerX,legendBox.rowY[i],7,0,Math.PI*2);
      c.fillStyle = d.backgroundColor; c.fill();
      c.fillStyle = "#000"; c.fillText(d.label,legendBox.textX,legendBox.rowY[i]+3);
    });
    c.restore();
  }
};
function axis(position, min, max, ticks, showLabels, size, pad, labelOffset){
  return {
    type:"linear", position, min, max,
    afterBuildTicks(s){ s.ticks = ticks.map(v=>({value:v})); },
    afterFit(s){ if (s.isHorizontal()) s.height = size; else s.width = size; },
    border:{display:true,color:INK,width:1},
    grid:{display:true,drawOnChartArea:false,drawTicks:true,tickLength:-12,tickColor:INK,tickWidth:1,color:INK},
    ticks:{display:showLabels,padding:pad,labelOffset,color:INK,autoSkip:false,maxRotation:0,minRotation:0,font:{family:FONT,size:33}}
  };
}
new Chart(document.getElementById("c"),{
  type:"scatter",
  data:{datasets:seriesPoints.map((pts,i)=>({
    label:seriesLabels[i],
    data:pts.map(p=>({x:p[0],y:p[1]})),
    backgroundColor:seriesColors[i],
    borderColor:seriesColors[i],
    pointRadius:7.4,pointHoverRadius:7.4,borderWidth:0,
    order:3-i
  }))},
  options:{
    responsive:false,animation:false,
    layout:{padding:{left:0,right:142,top:30,bottom:0}},
    scales:{
      x:axis("bottom",-42.9,50,xTicks,true,165,26,0),
      y:axis("left",-50,40,yTicks,true,195,24,3),
      x2:axis("top",-42.9,50,xTicks,false,0,0,0),
      y2:axis("right",-50,40,yTicks,false,0,0,0)
    },
    plugins:{
      legend:{display:false},
      tooltip:{enabled:false},
      title:{display:true,text:chartTitle,color:"#000",fullSize:false,font:{family:FONT,size:36.7,weight:"bold"},padding:{top:33,bottom:4.96}}
    }
  },
  plugins:[legendPlugin]
});
</script></body></html>
